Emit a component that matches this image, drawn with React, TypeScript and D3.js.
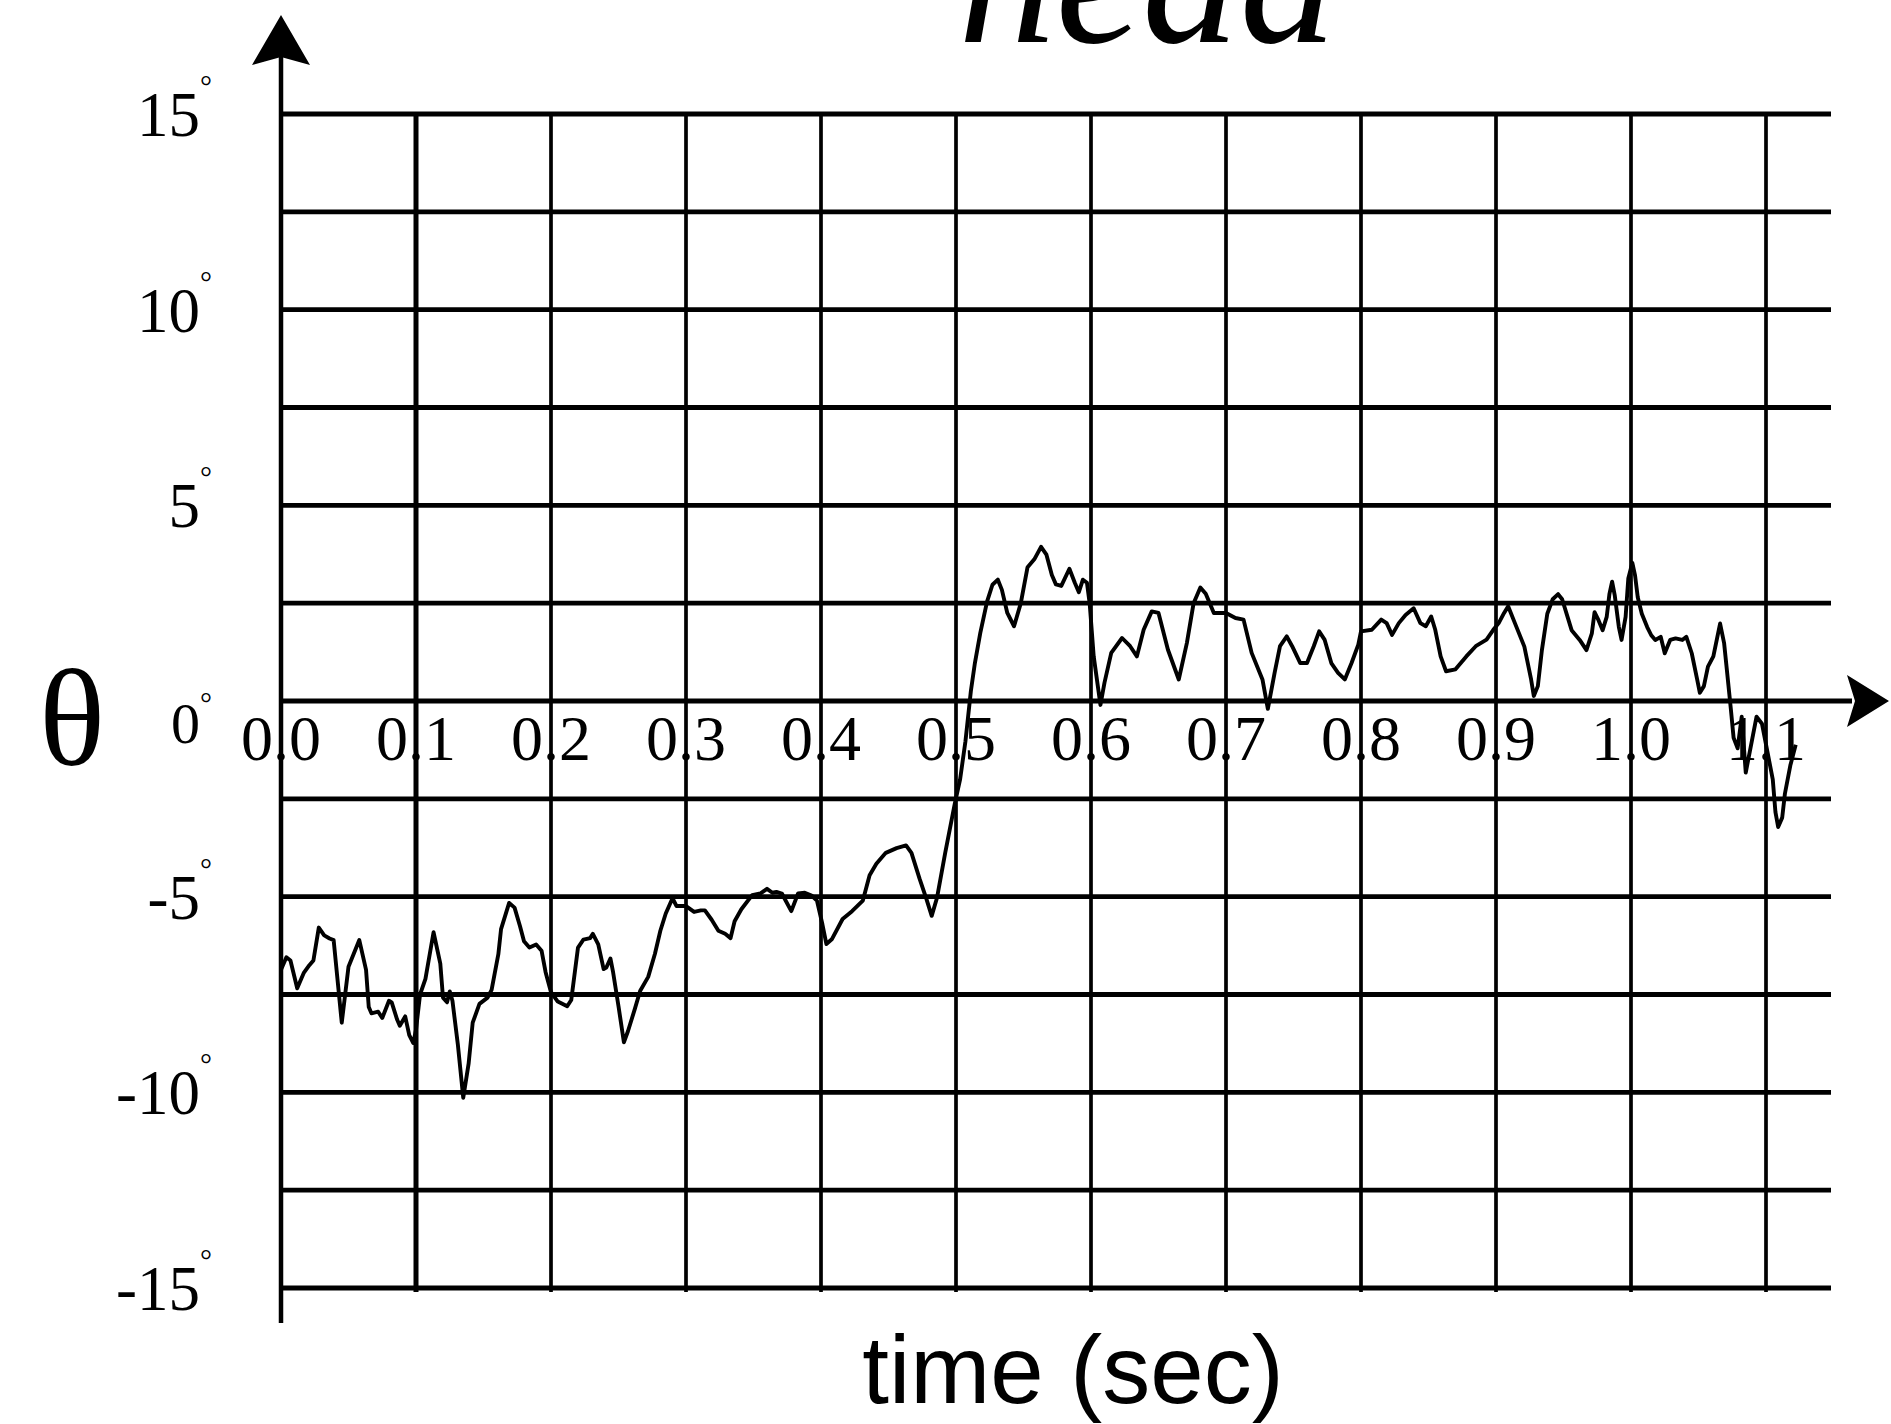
import React, { useRef, useEffect } from 'react';
import * as d3 from 'd3';

// head angle trace
const time = [
  0.000, 0.004, 0.007, 0.012, 0.017, 0.021, 0.024, 0.028, 0.032, 0.036, 0.039, 0.045, 0.050, 0.058,
  0.063, 0.065, 0.067, 0.072, 0.075, 0.080, 0.082, 0.086, 0.088, 0.092, 0.095, 0.098, 0.100, 0.103,
  0.107, 0.113, 0.118, 0.120, 0.123, 0.125, 0.127, 0.131, 0.135, 0.139, 0.142, 0.147, 0.153, 0.156,
  0.161, 0.163, 0.169, 0.173, 0.177, 0.180, 0.184, 0.189, 0.193, 0.196, 0.200, 0.205, 0.212, 0.215,
  0.220, 0.224, 0.229, 0.231, 0.235, 0.239, 0.241, 0.244, 0.246, 0.250, 0.254, 0.257, 0.262, 0.266,
  0.272, 0.277, 0.281, 0.285, 0.290, 0.293, 0.300, 0.306, 0.311, 0.314, 0.319, 0.324, 0.329, 0.333,
  0.336, 0.341, 0.349, 0.355, 0.360, 0.364, 0.367, 0.371, 0.378, 0.383, 0.388, 0.393, 0.397, 0.401,
  0.404, 0.408, 0.416, 0.423, 0.431, 0.436, 0.441, 0.448, 0.456, 0.463, 0.467, 0.473, 0.478, 0.482,
  0.486, 0.492, 0.499, 0.503, 0.507, 0.511, 0.514, 0.518, 0.523, 0.527, 0.531, 0.534, 0.538, 0.543,
  0.548, 0.553, 0.558, 0.563, 0.567, 0.571, 0.574, 0.578, 0.584, 0.588, 0.591, 0.594, 0.597, 0.599,
  0.602, 0.607, 0.610, 0.615, 0.623, 0.629, 0.634, 0.639, 0.645, 0.650, 0.657, 0.665, 0.671, 0.676,
  0.681, 0.685, 0.691, 0.700, 0.707, 0.713, 0.719, 0.727, 0.731, 0.736, 0.740, 0.745, 0.749, 0.755,
  0.760, 0.765, 0.769, 0.773, 0.778, 0.783, 0.788, 0.793, 0.798, 0.800, 0.808, 0.815, 0.819, 0.823,
  0.828, 0.833, 0.839, 0.844, 0.848, 0.852, 0.855, 0.859, 0.863, 0.870, 0.878, 0.885, 0.893, 0.898,
  0.902, 0.906, 0.909, 0.914, 0.921, 0.926, 0.928, 0.931, 0.934, 0.938, 0.942, 0.946, 0.949, 0.953,
  0.956, 0.962, 0.967, 0.971, 0.973, 0.976, 0.979, 0.982, 0.984, 0.986, 0.988, 0.991, 0.993, 0.996,
  0.998, 1.001, 1.003, 1.005, 1.008, 1.012, 1.015, 1.018, 1.022, 1.025, 1.029, 1.033, 1.038, 1.041,
  1.045, 1.049, 1.051, 1.054, 1.057, 1.061, 1.065, 1.066, 1.069, 1.071, 1.074, 1.076, 1.079, 1.082,
  1.085, 1.087, 1.091, 1.093, 1.097, 1.101, 1.105, 1.107, 1.109, 1.112, 1.114, 1.118, 1.122,
];

const theta = [
  -6.87, -6.55, -6.63, -7.34, -6.94, -6.75, -6.63, -5.79, -5.99, -6.07, -6.11, -8.22, -6.79, -6.11,
  -6.87, -7.82, -7.98, -7.94, -8.10, -7.66, -7.70, -8.14, -8.30, -8.06, -8.54, -8.74, -8.40, -7.50,
  -7.10, -5.91, -6.71, -7.58, -7.70, -7.42, -7.66, -8.78, -10.14, -9.26, -8.22, -7.74, -7.58, -7.38,
  -6.47, -5.83, -5.16, -5.28, -5.75, -6.14, -6.30, -6.22, -6.38, -6.93, -7.44, -7.68, -7.80, -7.64,
  -6.30, -6.10, -6.06, -5.95, -6.22, -6.85, -6.81, -6.58, -6.93, -7.80, -8.72, -8.44, -7.88, -7.41,
  -7.05, -6.46, -5.87, -5.43, -5.04, -5.24, -5.24, -5.39, -5.35, -5.35, -5.59, -5.87, -5.95, -6.06,
  -5.63, -5.32, -4.96, -4.92, -4.80, -4.90, -4.88, -4.92, -5.37, -4.92, -4.90, -4.97, -5.10, -5.70,
  -6.21, -6.09, -5.57, -5.37, -5.10, -4.45, -4.16, -3.88, -3.76, -3.69, -3.88, -4.54, -5.05, -5.49,
  -5.02, -3.88, -2.64, -2.01, -1.03, 0.25, 0.97, 1.74, 2.54, 2.97, 3.10, 2.84, 2.25, 1.91,
  2.50, 3.42, 3.62, 3.94, 3.74, 3.22, 2.98, 2.94, 3.38, 3.02, 2.78, 3.10, 3.02, 2.50,
  1.14, -0.10, 0.47, 1.23, 1.61, 1.40, 1.14, 1.82, 2.29, 2.25, 1.31, 0.55, 1.48, 2.50,
  2.90, 2.74, 2.25, 2.25, 2.12, 2.08, 1.23, 0.55, -0.20, 0.72, 1.40, 1.65, 1.40, 0.97,
  0.97, 1.40, 1.78, 1.57, 0.97, 0.72, 0.55, 0.97, 1.44, 1.78, 1.82, 2.08, 1.99, 1.69,
  1.99, 2.20, 2.37, 1.99, 1.91, 2.16, 1.82, 1.14, 0.76, 0.81, 1.14, 1.40, 1.57, 1.82,
  1.99, 2.25, 2.42, 1.99, 1.39, 0.55, 0.13, 0.38, 1.30, 2.23, 2.60, 2.73, 2.60, 2.15,
  1.81, 1.56, 1.30, 1.73, 2.27, 2.06, 1.81, 2.15, 2.73, 3.05, 2.69, 1.89, 1.56, 2.15,
  3.13, 3.53, 3.21, 2.65, 2.23, 1.89, 1.68, 1.56, 1.64, 1.22, 1.56, 1.60, 1.56, 1.64,
  1.22, 0.55, 0.21, 0.38, 0.88, 1.14, 1.81, 1.98, 1.47, 0.80, -0.22, -0.94, -1.21, -0.40,
  -1.83, -1.47, -0.76, -0.40, -0.58, -1.29, -2.00, -2.84, -3.22, -2.98, -2.37, -1.65, -1.12,
];

const xTicks = [0, 0.1, 0.2, 0.3, 0.4, 0.5, 0.6, 0.7, 0.8, 0.9, 1.0, 1.1];
const xTickLabels = ['0.0', '0.1', '0.2', '0.3', '0.4', '0.5', '0.6', '0.7', '0.8', '0.9', '1.0', '1.1'];
const yGrid = [15, 12.5, 10, 7.5, 5, 2.5, 0, -2.5, -5, -7.5, -10, -12.5, -15];
const yLabels = [15, 10, 5, 0, -5, -10, -15];

export default function App() {
  const ref = useRef(null);

  useEffect(() => {
    const svg = d3.select(ref.current);
    svg.selectAll('*').remove();

    const serif = '"Liberation Serif", "Times New Roman", serif';
    const sans = '"Liberation Sans", Arial, sans-serif';

    const x = d3.scaleLinear().domain([0, 1.1]).range([281, 1766]);
    const y = d3.scaleLinear().domain([-15, 15]).range([1288, 114]);
    const gridRight = 1831;
    const x0 = x(0);
    const y0 = y(0);

    // title, cut off by the top edge like in the source figure
    svg.append('text')
      .attr('x', 958)
      .attr('y', 42)
      .attr('font-family', serif)
      .attr('font-style', 'italic')
      .attr('font-size', 195)
      .text('head');

    // horizontal grid (the 0 line runs on into the arrow)
    svg.append('g')
      .selectAll('line')
      .data(yGrid)
      .join('line')
        .attr('x1', x0)
        .attr('x2', d => (d === 0 ? 1852 : gridRight))
        .attr('y1', d => y(d))
        .attr('y2', d => y(d))
        .attr('stroke', '#000')
        .attr('stroke-width', 4.8);

    // vertical grid
    svg.append('g')
      .selectAll('line')
      .data(xTicks.slice(1))
      .join('line')
        .attr('x1', d => x(d))
        .attr('x2', d => x(d))
        .attr('y1', y(15))
        .attr('y2', y(-15) + 4)
        .attr('stroke', '#000')
        .attr('stroke-width', d => (d === 0.1 ? 5 : 3.7));

    // y axis + arrows
    svg.append('line')
      .attr('x1', x0).attr('x2', x0)
      .attr('y1', 50).attr('y2', 1323)
      .attr('stroke', '#000')
      .attr('stroke-width', 4.5);

    svg.append('path')
      .attr('d', `M${x0},15 L${x0 + 29},65 L${x0},57 L${x0 - 29},65 Z`)
      .attr('fill', '#000');

    svg.append('path')
      .attr('d', `M1889,${y0} L1847,${y0 - 26} L1855,${y0} L1847,${y0 + 26} Z`)
      .attr('fill', '#000');

    // x tick labels, sitting just under the 0 line
    svg.append('g')
      .selectAll('text')
      .data(xTicks)
      .join('text')
        .attr('x', d => x(d))
        .attr('y', y0 + 59)
        .attr('text-anchor', 'middle')
        .attr('font-family', serif)
        .attr('font-size', 64)
        .text((d, i) => xTickLabels[i]);

    // y tick labels with small raised degree mark
    svg.append('g')
      .selectAll('text')
      .data(yLabels)
      .join('text')
        .attr('x', 212)
        .attr('y', d => y(d) + (d === 0 ? 42 : 22))
        .attr('text-anchor', 'end')
        .attr('font-family', serif)
        .attr('font-size', d => (d === 0 ? 58 : 63))
        .each(function (d) {
          const t = d3.select(this);
          t.append('tspan').text(String(d));
          t.append('tspan')
            .attr('font-size', 30)
            .attr('dy', d === 0 ? -30 : -40)
            .text('°');
        });

    // axis titles
    svg.append('text')
      .attr('x', 72)
      .attr('y', 765)
      .attr('text-anchor', 'middle')
      .attr('font-family', serif)
      .attr('font-size', 138)
      .text('θ');

    svg.append('text')
      .attr('x', 1073)
      .attr('y', 1403)
      .attr('text-anchor', 'middle')
      .attr('font-family', sans)
      .attr('font-size', 96)
      .text('time (sec)');

    // the trace
    const line = d3.line()
      .x(d => x(d[0]))
      .y(d => y(d[1]));

    svg.append('path')
      .datum(d3.zip(time, theta))
      .attr('d', line)
      .attr('fill', 'none')
      .attr('stroke', '#000')
      .attr('stroke-width', 3.9)
      .attr('stroke-linejoin', 'round');
  }, []);

  return (
    <svg
      ref={ref}
      width={1891}
      height={1424}
      style={{ position: 'absolute', left: 0, top: 0, display: 'block', background: '#fff' }}
    />
  );
}
